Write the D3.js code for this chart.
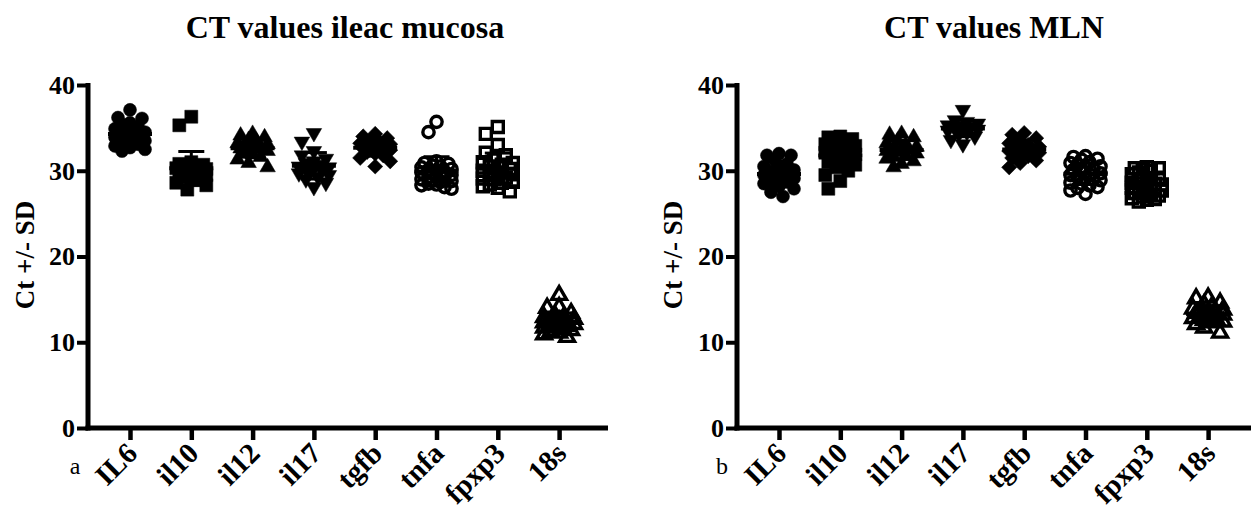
<!DOCTYPE html>
<html><head><meta charset="utf-8">
<script src="https://cdn.jsdelivr.net/npm/d3@7"></script>
<style>body{margin:0;background:#fff}svg{display:block}text{font-family:"Liberation Serif","Times New Roman",serif;fill:#000}</style>
</head><body>
<svg id="c" width="1251" height="509"></svg>
<script>
const categories = ["IL6","il10","il12","il17","tgfb","tnfa","fpxp3","18s"];
const yTicks = [0,10,20,30,40];
const titles = ["CT values ileac mucosa","CT values MLN"];
const panelLetters = ["a","b"];
const yLabel = "Ct +/- SD";

// Panel a: ileac mucosa
const mucosaIL6  = [37.1,36.2,36.1,35.6,35.4,35.1,34.9,34.7,34.5,34.3,34.1,33.9,33.7,33.5,33.3,33.1,32.9,32.7,32.5,32.3];
const mucosaIl10 = [36.3,35.3,31.0,30.8,30.7,30.5,30.4,30.3,30.2,30.1,30.0,29.9,29.8,29.7,29.6,29.5,29.3,29.1,28.9,28.6,28.3,27.8];
const mucosaIl12 = [34.3,34.1,33.9,33.6,33.4,33.2,33.1,33.0,32.9,32.8,32.7,32.6,32.5,32.3,32.1,31.9,31.6,31.3,30.9,30.4];
const mucosaIl17 = [34.4,33.4,32.3,31.8,31.4,31.1,30.9,30.7,30.5,30.4,30.3,30.2,30.0,29.9,29.7,29.5,29.3,29.0,28.6,28.1];
const mucosaTgfb = [34.3,34.0,33.8,33.6,33.4,33.2,33.1,33.0,32.9,32.8,32.7,32.6,32.5,32.4,32.2,32.0,31.8,31.5,31.1,30.5];
const mucosaTnfa = [35.7,34.5,31.1,30.9,30.8,30.6,30.5,30.4,30.2,30.1,30.0,29.9,29.8,29.7,29.6,29.5,29.4,29.3,29.2,29.0,28.9,28.8,28.7,28.5,28.4,28.3,28.1,27.9];
const mucosaFpxp3= [35.1,34.3,33.0,32.1,31.8,31.3,31.0,30.9,30.7,30.5,30.4,30.2,30.0,29.9,29.8,29.6,29.5,29.4,29.2,29.1,29.0,28.7,28.6,28.4,28.2,28.0,27.6];
const mucosa18s  = [15.5,14.1,14.0,13.4,13.1,12.9,12.8,12.7,12.6,12.5,12.4,12.3,12.3,12.2,12.1,12.0,12.0,11.9,11.8,11.7,11.5,11.4,11.3,11.1,10.9,10.6];

// Panel b: MLN
const mlnIL6  = [32.0,31.8,31.8,31.2,30.8,30.5,30.3,30.1,29.9,29.7,29.5,29.3,29.1,28.9,28.7,28.5,28.2,27.9,27.5,27.0];
const mlnIl10 = [34.0,33.9,33.7,33.5,33.3,33.1,32.9,32.7,32.5,32.3,32.1,31.9,31.6,31.3,31.0,30.7,30.4,30.0,29.5,28.8,27.9];
const mlnIl12 = [34.3,34.2,33.9,33.5,33.2,33.0,32.8,32.6,32.5,32.4,32.3,32.2,32.0,31.8,31.6,31.4,31.1,30.8,30.4];
const mlnIl17 = [37.1,35.9,35.7,35.5,35.3,35.2,35.1,35.0,34.9,34.8,34.7,34.5,34.3,34.0,33.6,33.1];
const mlnTgfb = [34.4,34.2,33.8,33.5,33.2,33.0,32.8,32.6,32.5,32.4,32.3,32.1,31.9,31.7,31.5,31.2,30.9,30.4];
const mlnTnfa = [31.7,31.6,31.4,31.3,31.0,30.9,30.7,30.5,30.3,30.2,30.1,29.9,29.7,29.6,29.5,29.3,29.1,29.0,28.9,28.6,28.5,28.3,28.1,28.0,27.7,27.3];
const mlnFpxp3= [30.4,30.3,30.3,30.2,30.0,29.8,29.6,29.2,29.0,28.9,28.6,28.5,28.4,28.2,28.1,28.0,27.8,27.7,27.6,27.4,27.2,27.1,27.0,26.8,26.7,26.6,26.4];
const mln18s  = [15.2,15.1,14.6,14.4,14.2,13.9,13.8,13.7,13.5,13.4,13.4,13.3,13.2,13.1,13.0,13.0,12.8,12.7,12.6,12.4,12.3,12.1,11.7,11.1];

const panels = [
  {series:[mucosaIL6,mucosaIl10,mucosaIl12,mucosaIl17,mucosaTgfb,mucosaTnfa,mucosaFpxp3,mucosa18s]},
  {series:[mlnIL6,mlnIl10,mlnIl12,mlnIl17,mlnTgfb,mlnTnfa,mlnFpxp3,mln18s]}
];

// marker styles per category
const markerStyle = [
  {type:d3.symbolCircle, size:133, rot:0, open:false},
  {type:d3.symbolSquare, size:169, rot:0, open:false},
  {type:d3.symbolTriangle, size:105, rot:0, open:false},
  {type:d3.symbolTriangle, size:105, rot:180, open:false},
  {type:d3.symbolSquare, size:115, rot:45, open:false},
  {type:d3.symbolCircle, size:100, rot:0, open:true},
  {type:d3.symbolSquare, size:121, rot:0, open:true},
  {type:d3.symbolTriangle, size:95, rot:0, open:true}
];

const svg = d3.select("#c");
const layoutSpec = [
  {x0:88, xEnd:608, titleX:345, yLabX:34, letterX:75},
  {x0:737, xEnd:1251, titleX:994, yLabX:682, letterX:722}
];
const y = d3.scaleLinear().domain([0,40]).range([428,85]);

function swarm(values, yS, minD){
  const pts = values.map(v=>({v, y:yS(v)})).sort((a,b)=>a.y-b.y);
  const placed=[];
  const cands=[0,-4,4,-8,8,-12,12,-15,15];
  for(const p of pts){
    let best=0, bestD=-1;
    for(const c of cands){
      let md=Infinity;
      for(const q of placed){const d=Math.hypot(q.dx-c,q.y-p.y); if(d<md) md=d;}
      if(md>=minD){best=c;bestD=md;break;}
      if(md>bestD+0.5){bestD=md;best=c;}
    }
    p.dx=best; placed.push(p);
  }
  return placed;
}

panels.forEach((panel,pi)=>{
  const L = layoutSpec[pi];
  const x = d3.scalePoint().domain(categories).range([L.x0+42, L.x0+42+7*61.3]);
  const g = svg.append("g");

  // title
  g.append("text").attr("x",L.titleX).attr("y",38).attr("text-anchor","middle")
    .attr("font-size",32).attr("font-weight","bold").text(titles[pi]);

  // y axis
  const yAx = d3.axisLeft(y).tickValues(yTicks).tickSize(11).tickPadding(2).tickFormat(d3.format("d"));
  const ya = g.append("g").attr("transform",`translate(${L.x0},0)`).call(yAx);
  ya.select(".domain").remove();
  ya.selectAll(".tick line").attr("stroke","#000").attr("stroke-width",4);
  ya.selectAll(".tick text").attr("font-size",26).attr("font-weight","bold")
    .attr("font-family","Liberation Serif, serif").attr("fill","#000");
  g.append("line").attr("x1",L.x0).attr("x2",L.x0).attr("y1",y(40)-2).attr("y2",y(0)+2.5)
    .attr("stroke","#000").attr("stroke-width",5);

  // x axis
  const xAx = d3.axisBottom(x).tickSize(12).tickFormat("");
  const xa = g.append("g").attr("transform",`translate(0,${y(0)})`).call(xAx);
  xa.select(".domain").remove();
  xa.selectAll(".tick line").attr("stroke","#000").attr("stroke-width",4.5);
  g.append("line").attr("x1",L.x0-2.5).attr("x2",L.xEnd).attr("y1",y(0)).attr("y2",y(0))
    .attr("stroke","#000").attr("stroke-width",5);

  // category labels
  g.selectAll("text.cat").data(categories).join("text").attr("class","cat")
    .attr("text-anchor","end").attr("font-size",29).attr("font-weight","bold")
    .attr("transform",d=>`translate(${x(d)+9},${y(0)+27}) rotate(-45)`).text(d=>d);

  // y label
  g.append("text").attr("transform",`translate(${L.yLabX},255) rotate(-90)`)
    .attr("text-anchor","middle").attr("font-size",27).attr("font-weight","bold").text(yLabel);

  // panel letter
  g.append("text").attr("x",L.letterX).attr("y",474).attr("text-anchor","middle")
    .attr("font-size",24).text(panelLetters[pi]);

  // points
  panel.series.forEach((vals,ci)=>{
    const cx = x(categories[ci]);
    const st = markerStyle[ci];
    const sym = d3.symbol().type(st.type).size(st.size);
    const pts = swarm(vals, y, 12);
    g.append("g").selectAll("path").data(pts).join("path")
      .attr("d",sym)
      .attr("transform",d=>`translate(${cx+d.dx},${d.y}) rotate(${st.rot})`)
      .attr("fill",st.open?"none":"#000")
      .attr("stroke","#000").attr("stroke-width",st.open?3.4:0.5);
    const m = d3.mean(vals), sd = d3.deviation(vals);
    const eg = g.append("g").attr("stroke","#000");
    eg.append("line").attr("x1",cx).attr("x2",cx).attr("y1",y(m+sd)).attr("y2",y(m-sd)).attr("stroke-width",3);
    [m+sd,m-sd].forEach(v=>eg.append("line").attr("x1",cx-13).attr("x2",cx+13).attr("y1",y(v)).attr("y2",y(v)).attr("stroke-width",3));
    eg.append("line").attr("x1",cx-22).attr("x2",cx+22).attr("y1",y(m)).attr("y2",y(m)).attr("stroke-width",4);
  });
});
</script>
</body></html>
